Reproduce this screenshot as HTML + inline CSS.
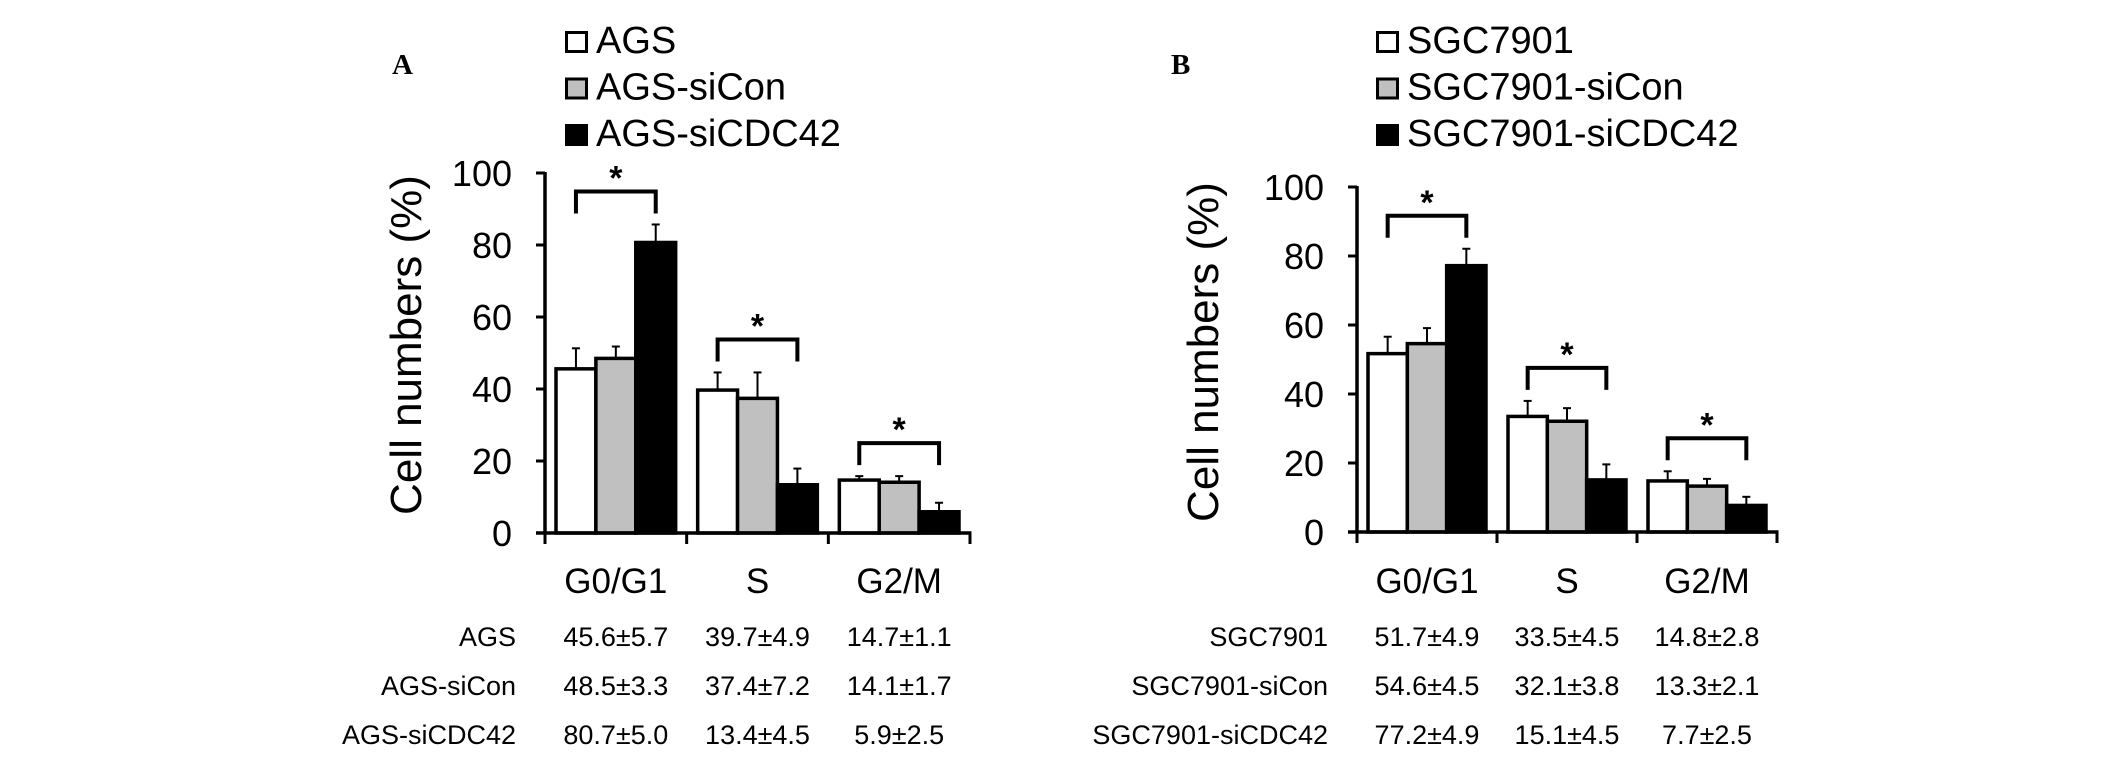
<!DOCTYPE html>
<html><head><meta charset="utf-8"><style>
html,body{margin:0;padding:0;background:#fff;}
svg{display:block;font-family:"Liberation Sans",Arial,sans-serif;}
</style></head><body>
<svg id="fig" width="2126" height="757" viewBox="0 0 2126 757" xmlns="http://www.w3.org/2000/svg">
<rect width="2126" height="757" fill="#fff"/>
</svg>
<script>
const categories = ["G0/G1", "S", "G2/M"];
const yTicks = [0, 20, 40, 60, 80, 100];
const seriesA = ["AGS", "AGS-siCon", "AGS-siCDC42"];
const meansA = [[45.6, 39.7, 14.7], [48.5, 37.4, 14.1], [80.7, 13.4, 5.9]];
const errsA  = [[5.7, 4.9, 1.1], [3.3, 7.2, 1.7], [5.0, 4.5, 2.5]];
const seriesB = ["SGC7901", "SGC7901-siCon", "SGC7901-siCDC42"];
const meansB = [[51.7, 33.5, 14.8], [54.6, 32.1, 13.3], [77.2, 15.1, 7.7]];
const errsB  = [[4.9, 4.5, 2.8], [4.5, 3.8, 2.1], [4.9, 4.5, 2.5]];
const fills = ["#ffffff", "#c0c0c0", "#000000"];

const NS = "http://www.w3.org/2000/svg";
const svg = document.getElementById("fig");
function mk(tag, attrs, parent, text) {
  const e = document.createElementNS(NS, tag);
  for (const k in attrs) e.setAttribute(k, attrs[k]);
  if (text !== undefined) e.textContent = text;
  (parent || svg).appendChild(e);
  return e;
}

function panel(p) {
  const g = mk("g", {});
  
  
  const yS = v => p.y0 - v * (p.y0 - p.y100) / 100;
  const catW = (p.xEnd - p.ax) / categories.length;
  const barW = (catW - 22) / 3;
  const xBar = (c, s) => p.ax + c * catW + 11 + s * barW;

  const L = mk("text", {x: p.letterX, y: 74, "font-family": "'Liberation Serif',serif", "font-weight": "bold", "font-size": 29, fill: "#000"}, g, p.id);
  
  

  p.series.forEach((s, i) => {
    const lg = mk("g", {}, g);
    
    
    const top = 31 + i * 46.5;
    mk("rect", {x: p.legX + 1.5, y: top + 1.5, width: 20, height: 19, fill: fills[i], stroke: "#000", "stroke-width": 3}, lg);
    mk("text", {x: p.legX + 31, y: top + 22, "font-size": 38, fill: "#000"}, lg, s);
  });

  const yt = mk("text", {x: 0, y: 0, "font-size": 44, "text-anchor": "middle", transform: `translate(${p.titleX},${p.titleY}) rotate(-90)`, fill: "#000"}, g, "Cell numbers (%)");
  
  

  yTicks.forEach(t => {
    mk("line", {x1: p.ax - 9, x2: p.ax, y1: yS(t), y2: yS(t), stroke: "#000", "stroke-width": 3}, g);
    const tl = mk("text", {x: p.ax - 33, y: yS(t) + 13, "font-size": 36, "text-anchor": "end", fill: "#000"}, g, String(t));
    
    
  });

  for (let s = 0; s < 3; s++) {
    for (let c = 0; c < categories.length; c++) {
      const v = p.means[s][c], e = p.errs[s][c];
      const x = xBar(c, s), cx = x + barW / 2;
      const bt = yS(v + e);
      mk("line", {x1: cx, x2: cx, y1: yS(v), y2: bt, stroke: "#000", "stroke-width": 2}, g);
      mk("line", {x1: cx - 4, x2: cx + 4, y1: bt, y2: bt, stroke: "#000", "stroke-width": 2}, g);
      const r = mk("rect", {x: x, y: yS(v), width: barW, height: p.y0 - yS(v), fill: fills[s], stroke: "#000", "stroke-width": 3.5}, g);
      
      
    }
  }

  mk("line", {x1: p.ax, x2: p.ax, y1: p.y100 - 1, y2: p.y0 + 1.5, stroke: "#000", "stroke-width": 3.5}, g);
  mk("line", {x1: p.ax - 9, x2: p.xEnd + 1.5, y1: p.y0, y2: p.y0, stroke: "#000", "stroke-width": 3.5}, g);
  for (let c = 0; c <= categories.length; c++) {
    const x = p.ax + c * catW;
    mk("line", {x1: x, x2: x, y1: p.y0, y2: p.y0 + 11, stroke: "#000", "stroke-width": 3}, g);
  }

  categories.forEach((cat, c) => {
    const cc = p.ax + (c + 0.5) * catW;
    const cl = mk("text", {x: cc, y: 593, "font-size": 35, "text-anchor": "middle", fill: "#000"}, g, cat);
    
    

    let maxTop = Infinity;
    for (let s = 0; s < 3; s++) maxTop = Math.min(maxTop, yS(p.means[s][c] + p.errs[s][c]));
    const x1 = xBar(c, 0) + barW / 2, x2 = xBar(c, 2) + barW / 2;
    const yb = maxTop - 11, yt2 = yb - 22;
    const br = mk("path", {d: `M${x1},${yb} L${x1},${yt2} L${x2},${yt2} L${x2},${yb}`, fill: "none", stroke: "#000", "stroke-width": 4}, g);
    
    
    mk("text", {x: (x1 + x2) / 2, y: yt2 - 2, "font-size": 34, "font-weight": "bold", "text-anchor": "middle", fill: "#000"}, g, "*");

    for (let s = 0; s < 3; s++) {
      const tv = mk("text", {x: cc, y: 646 + s * 49, "font-size": 27, "text-anchor": "middle", fill: "#000"}, g,
        p.means[s][c].toFixed(1) + "±" + p.errs[s][c].toFixed(1));
      
      
    }
  });
  p.series.forEach((s, i) => {
    const rl = mk("text", {x: p.rowLabelX, y: 646 + i * 49, "font-size": 27, "text-anchor": "end", fill: "#000"}, g, s);
    
    
  });
}

panel({id: "A", series: seriesA, means: meansA, errs: errsA, ax: 545, xEnd: 970, y0: 533, y100: 173,
  letterX: 392, legX: 565, titleX: 421, titleY: 345, rowLabelX: 516});
panel({id: "B", series: seriesB, means: meansB, errs: errsB, ax: 1357, xEnd: 1777, y0: 532, y100: 187,
  letterX: 1171, legX: 1376, titleX: 1218, titleY: 352, rowLabelX: 1328});
</script>
</body></html>
